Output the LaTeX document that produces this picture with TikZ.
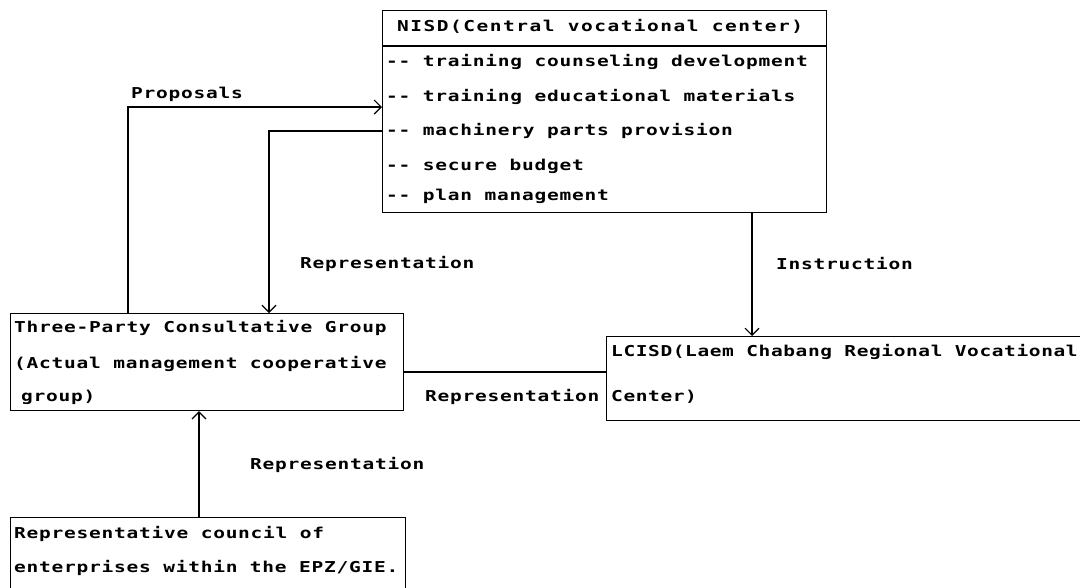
\documentclass[tikz,border=0pt]{standalone}
\usepackage{fontspec}
\setmonofont[FakeStretch=1.3,LetterSpace=5]{DejaVu Sans Mono Bold}
\usetikzlibrary{arrows.meta}
\tikzset{
  box/.style={draw, line width=1.2pt, inner sep=0pt, anchor=north west},
  txt/.style={anchor=west, inner sep=0pt, font=\ttfamily\fontsize{15pt}{17pt}\selectfont},
  conn/.style={line width=1.6pt},
  arr/.style={conn, -{Straight Barb[length=7pt,width=14pt,line width=1.1pt]}},
}
\begin{document}
\begin{tikzpicture}[x=1pt,y=-1pt]
\useasboundingbox (0,0) rectangle (1080,587);
\clip (0,0) rectangle (1080,587);
% boxes
\node[box, minimum width=444pt, minimum height=202pt] (nisd) at (382,10) {};
\node[box, minimum width=393pt, minimum height=97pt] (tpg) at (10,313) {};
\node[box, minimum width=520pt, minimum height=84pt] (lc) at (606,336) {};
\node[box, minimum width=395pt, minimum height=110pt] (rc) at (10,517) {};
\coordinate (hl) at (0,46);
\draw[line width=1.2pt] (nisd.west |- hl) -- (nisd.east |- hl);
% NISD texts
\node[txt] (t0) at (397,26) {\addfontfeatures{LetterSpace=10}NISD(Central vocational center)};
\node[txt] (t1) at (386,62) {-- training counseling development};
\node[txt] (t2) at (386,97) {-- training educational materials};
\node[txt] (t3) at (386,131) {-- machinery parts provision};
\node[txt] (t4) at (386,166) {-- secure budget};
\node[txt] (t5) at (386,196) {-- plan management};
% Three-party
\node[txt] (g1) at (14,328) {Three-Party Consultative Group};
\node[txt] (g2) at (14,364) {(Actual management cooperative};
\node[txt] (g3) at (21,397) {group)};
% LCISD
\node[txt] (l1) at (611,352) {\addfontfeatures{LetterSpace=4}LCISD(Laem Chabang Regional Vocational};
\node[txt] (l2) at (611,397) {\addfontfeatures{LetterSpace=4}Center)};
% council
\node[txt] (c1) at (14,534) {Representative council of};
\node[txt] (c2) at (14,568) {enterprises within the EPZ/GIE.};
% labels
\node[txt] (lp) at (131,94) {Proposals};
\node[txt] (lr1) at (300,264) {Representation};
\node[txt] (li) at (776,264) {Instruction};
\node[txt] (lr2) at (425,397) {Representation};
\node[txt] (lr3) at (250,465) {Representation};
% connectors
\coordinate (p1) at (128,107);
\draw[arr] (tpg.north -| p1) |- (nisd.west |- p1);
\coordinate (r1) at (269,131);
\draw[arr] (nisd.west |- r1) -| (tpg.north -| r1);
\coordinate (i1) at (752,0);
\draw[arr] (nisd.south -| i1) -- (lc.north -| i1);
\coordinate (h1) at (0,372);
\draw[line width=1.2pt] (tpg.east |- h1) -- (lc.west |- h1);
\coordinate (v1) at (199,0);
\draw[arr] (rc.north -| v1) -- (tpg.south -| v1);
\end{tikzpicture}
\end{document}
